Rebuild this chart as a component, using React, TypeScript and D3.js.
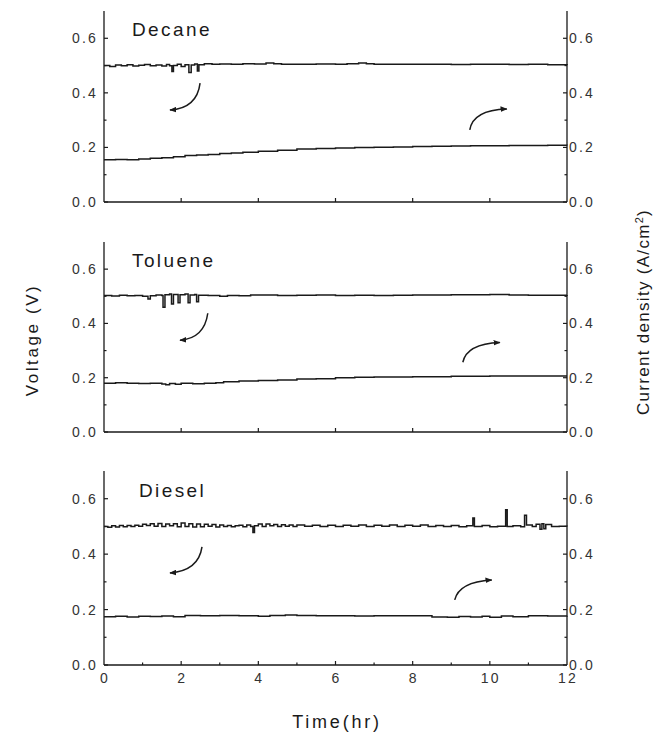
import * as d3 from 'd3';

type Pt = [number, number];

const timeTicks = [0, 2, 4, 6, 8, 10, 12];
const timeMinorTicks = [1, 3, 5, 7, 9, 11];
const valueTicks = [0, 0.2, 0.4, 0.6];
const valueMinorTicks = [0.1, 0.3, 0.5];
const panelNames = ['Decane', 'Toluene', 'Diesel'];

const decaneVoltage: Pt[] = [
  [0, 0.5], [0.15, 0.497], [0.3, 0.502], [0.45, 0.499], [0.6, 0.503], [0.75, 0.498], [0.9, 0.501],
  [1.05, 0.504], [1.2, 0.499], [1.35, 0.502], [1.5, 0.498], [1.62, 0.504], [1.7, 0.499], [1.76, 0.478],
  [1.8, 0.5], [1.9, 0.505], [2.0, 0.497], [2.1, 0.503], [2.2, 0.475], [2.26, 0.502], [2.35, 0.506],
  [2.42, 0.48], [2.46, 0.503], [2.6, 0.507], [2.8, 0.505], [3.0, 0.506], [3.3, 0.505], [3.6, 0.507],
  [3.9, 0.506], [4.2, 0.509], [4.4, 0.507], [4.6, 0.505], [5.0, 0.505], [5.5, 0.506], [6.0, 0.505],
  [6.3, 0.507], [6.6, 0.509], [6.8, 0.507], [7.0, 0.505], [7.5, 0.505], [8.0, 0.505], [8.5, 0.505],
  [9.0, 0.504], [9.5, 0.505], [10.0, 0.505], [10.5, 0.504], [11.0, 0.505], [11.5, 0.503], [12.0, 0.501],
];
const decaneCurrent: Pt[] = [
  [0, 0.155], [0.3, 0.156], [0.6, 0.155], [0.9, 0.158], [1.2, 0.16], [1.5, 0.162], [1.8, 0.166],
  [2.1, 0.17], [2.4, 0.172], [2.7, 0.174], [3.0, 0.178], [3.3, 0.18], [3.6, 0.182], [4.0, 0.186],
  [4.5, 0.19], [5.0, 0.194], [5.5, 0.196], [6.0, 0.198], [6.5, 0.2], [7.0, 0.201], [7.5, 0.202],
  [8.0, 0.203], [8.5, 0.204], [9.0, 0.205], [9.5, 0.206], [10.0, 0.206], [10.5, 0.207], [11.0, 0.207],
  [11.5, 0.208], [12.0, 0.207],
];

const tolueneVoltage: Pt[] = [
  [0, 0.503], [0.2, 0.501], [0.4, 0.504], [0.6, 0.502], [0.8, 0.503], [1.0, 0.5], [1.14, 0.49],
  [1.2, 0.502], [1.35, 0.505], [1.5, 0.503], [1.53, 0.46], [1.58, 0.506], [1.7, 0.508], [1.75, 0.472],
  [1.8, 0.507], [1.92, 0.476], [1.97, 0.506], [2.1, 0.508], [2.18, 0.476], [2.23, 0.505], [2.35, 0.507],
  [2.4, 0.48], [2.45, 0.504], [2.7, 0.503], [3.0, 0.5], [3.2, 0.503], [3.5, 0.502], [3.8, 0.505],
  [4.0, 0.505], [4.5, 0.503], [5.0, 0.504], [5.5, 0.505], [6.0, 0.503], [6.5, 0.504], [7.0, 0.503],
  [7.5, 0.504], [8.0, 0.505], [8.5, 0.505], [9.0, 0.506], [9.5, 0.506], [10.0, 0.507], [10.5, 0.505],
  [11.0, 0.504], [11.5, 0.504], [12.0, 0.505],
];
const tolueneCurrent: Pt[] = [
  [0, 0.18], [0.3, 0.181], [0.6, 0.18], [0.9, 0.179], [1.2, 0.18], [1.5, 0.177], [1.6, 0.174],
  [1.7, 0.179], [1.85, 0.176], [2.0, 0.18], [2.3, 0.178], [2.6, 0.18], [2.9, 0.181], [3.1, 0.185],
  [3.5, 0.188], [4.0, 0.19], [4.5, 0.192], [5.0, 0.195], [5.5, 0.196], [6.0, 0.2], [6.5, 0.202],
  [7.0, 0.203], [7.5, 0.203], [8.0, 0.204], [8.5, 0.204], [9.0, 0.205], [9.5, 0.205], [10.0, 0.206],
  [10.5, 0.206], [11.0, 0.206], [11.5, 0.206], [12.0, 0.206],
];

const dieselVoltage: Pt[] = [
  [0, 0.5], [0.1, 0.497], [0.2, 0.502], [0.3, 0.498], [0.4, 0.503], [0.5, 0.499], [0.6, 0.503],
  [0.7, 0.5], [0.8, 0.504], [0.9, 0.501], [1.0, 0.508], [1.1, 0.503], [1.2, 0.51], [1.3, 0.501],
  [1.4, 0.511], [1.5, 0.5], [1.6, 0.509], [1.7, 0.502], [1.8, 0.51], [1.9, 0.499], [2.0, 0.512],
  [2.1, 0.5], [2.2, 0.51], [2.3, 0.498], [2.4, 0.509], [2.5, 0.499], [2.6, 0.508], [2.7, 0.501],
  [2.8, 0.507], [2.9, 0.498], [3.0, 0.505], [3.1, 0.5], [3.2, 0.503], [3.3, 0.499], [3.4, 0.502],
  [3.5, 0.504], [3.6, 0.499], [3.7, 0.505], [3.8, 0.5], [3.86, 0.478], [3.9, 0.502], [4.0, 0.509],
  [4.1, 0.5], [4.2, 0.509], [4.3, 0.502], [4.4, 0.507], [4.5, 0.5], [4.6, 0.506], [4.7, 0.501],
  [4.8, 0.505], [4.9, 0.5], [5.0, 0.505], [5.2, 0.501], [5.4, 0.504], [5.6, 0.5], [5.8, 0.504],
  [6.0, 0.5], [6.2, 0.504], [6.4, 0.501], [6.6, 0.505], [6.8, 0.5], [7.0, 0.504], [7.2, 0.501],
  [7.4, 0.505], [7.6, 0.5], [7.8, 0.504], [8.0, 0.501], [8.2, 0.505], [8.4, 0.5], [8.6, 0.503],
  [8.8, 0.5], [9.0, 0.503], [9.2, 0.499], [9.4, 0.502], [9.56, 0.53], [9.6, 0.5], [9.8, 0.503],
  [10.0, 0.499], [10.2, 0.501], [10.41, 0.56], [10.45, 0.5], [10.6, 0.502], [10.8, 0.499], [10.9, 0.54],
  [10.95, 0.505], [11.1, 0.5], [11.2, 0.508], [11.3, 0.49], [11.35, 0.51], [11.4, 0.492], [11.45, 0.507],
  [11.6, 0.5], [11.8, 0.501], [12.0, 0.5],
];
const dieselCurrent: Pt[] = [
  [0, 0.174], [0.3, 0.176], [0.6, 0.173], [0.9, 0.176], [1.2, 0.175], [1.5, 0.177], [1.8, 0.174],
  [2.1, 0.179], [2.5, 0.178], [3.0, 0.179], [3.5, 0.178], [4.0, 0.176], [4.3, 0.179], [4.7, 0.18],
  [5.0, 0.179], [5.5, 0.178], [6.0, 0.178], [6.5, 0.177], [7.0, 0.178], [7.5, 0.178], [8.0, 0.178],
  [8.4, 0.178], [8.5, 0.173], [8.9, 0.172], [9.2, 0.175], [9.5, 0.173], [9.8, 0.176], [10.0, 0.172],
  [10.3, 0.177], [10.6, 0.174], [11.0, 0.178], [11.5, 0.177], [12.0, 0.178],
];

// curved arrows: [start, control, end] in data units
const decaneArrows: Pt[][] = [
  [[2.49, 0.436], [2.41, 0.344], [1.71, 0.337]],
  [[9.48, 0.264], [9.56, 0.337], [10.44, 0.341]],
];
const tolueneArrows: Pt[][] = [
  [[2.69, 0.4375], [2.6, 0.345], [1.97, 0.338]],
  [[9.3, 0.257], [9.4, 0.325], [10.26, 0.33]],
];
const dieselArrows: Pt[][] = [
  [[2.54, 0.426], [2.45, 0.34], [1.71, 0.332]],
  [[9.09, 0.235], [9.2, 0.3], [10.05, 0.307]],
];

const panels = [
  { name: panelNames[0], voltage: decaneVoltage, current: decaneCurrent, arrows: decaneArrows, top: 11, bottom: 202, labelX: 132, labelY: 36 },
  { name: panelNames[1], voltage: tolueneVoltage, current: tolueneCurrent, arrows: tolueneArrows, top: 242, bottom: 432, labelX: 132, labelY: 267 },
  { name: panelNames[2], voltage: dieselVoltage, current: dieselCurrent, arrows: dieselArrows, top: 471, bottom: 665, labelX: 139, labelY: 497 },
];

const FONT = '"Liberation Sans", Arial, sans-serif';
const INK = '#1a1a1a';

export default function App() {
  const width = 660;
  const height = 738;
  const left = 104;
  const right = 567;

  const x = d3.scaleLinear().domain([0, 12]).range([left, right]);

  return (
    <svg width={width} height={height} style={{ position: 'absolute', left: 0, top: 0, background: '#fff' }}>
      <defs>
        <marker id="head" viewBox="0 0 10 8" refX={9} refY={4} markerWidth={7} markerHeight={6} orient="auto" markerUnits="userSpaceOnUse">
          <path d="M0,0 L10,4 L0,8 z" fill={INK} />
        </marker>
      </defs>

      {panels.map((p, pi) => {
        const y = d3.scaleLinear().domain([0, 0.7]).range([p.bottom, p.top]);
        // stepped trace, like the logger output
        const line = d3.line<Pt>().x((d) => x(d[0])).y((d) => y(d[1])).curve(d3.curveStepAfter);
        const isLast = pi === panels.length - 1;
        return (
          <g key={p.name}>
            {/* data */}
            <path d={line(p.voltage) || ''} fill="none" stroke={INK} strokeWidth={1.5} />
            <path d={line(p.current) || ''} fill="none" stroke={INK} strokeWidth={1.5} />

            {/* arrows */}
            {p.arrows.map((a, i) => {
              const path = d3.path();
              path.moveTo(x(a[0][0]), y(a[0][1]));
              path.quadraticCurveTo(x(a[1][0]), y(a[1][1]), x(a[2][0]), y(a[2][1]));
              return (
                <path key={i} d={path.toString()} fill="none" stroke={INK} strokeWidth={1.5} markerEnd="url(#head)" />
              );
            })}

            {/* frame: left, right, bottom */}
            <line x1={left} x2={left} y1={p.top} y2={p.bottom} stroke={INK} strokeWidth={1.3} />
            <line x1={right} x2={right} y1={p.top} y2={p.bottom} stroke={INK} strokeWidth={1.3} />
            <line x1={left} x2={right} y1={p.bottom} y2={p.bottom} stroke={INK} strokeWidth={1.3} />

            {/* y ticks */}
            {valueTicks.map((t) => (
              <g key={`yt-${t}`}>
                <line x1={left} x2={left + 4} y1={y(t)} y2={y(t)} stroke={INK} strokeWidth={1.2} />
                <line x1={right - 4} x2={right} y1={y(t)} y2={y(t)} stroke={INK} strokeWidth={1.2} />
                <text x={98} y={y(t)} dy="0.36em" textAnchor="end" fontSize={14} letterSpacing={2.2}
                  fontFamily={FONT} fill="#333">{d3.format('.1f')(t)}</text>
                <text x={569} y={y(t)} dy="0.36em" fontSize={14} letterSpacing={2.2}
                  fontFamily={FONT} fill="#333">{d3.format('.1f')(t)}</text>
              </g>
            ))}
            {valueMinorTicks.map((t) => (
              <g key={`ym-${t}`}>
                <line x1={left} x2={left + 2.5} y1={y(t)} y2={y(t)} stroke={INK} strokeWidth={1.2} />
                <line x1={right - 2.5} x2={right} y1={y(t)} y2={y(t)} stroke={INK} strokeWidth={1.2} />
              </g>
            ))}

            {/* x ticks */}
            {timeTicks.slice(1, -1).map((t) => (
              <line key={`xt-${t}`} x1={x(t)} x2={x(t)} y1={p.bottom} y2={p.bottom - 4} stroke={INK} strokeWidth={1.2} />
            ))}
            {isLast && timeMinorTicks.map((t) => (
              <line key={`xm-${t}`} x1={x(t)} x2={x(t)} y1={p.bottom} y2={p.bottom - 2.5} stroke={INK} strokeWidth={1.2} />
            ))}
            {isLast && timeTicks.map((t) => (
              <text key={`xl-${t}`} x={x(t) + 1} y={p.bottom + 18} textAnchor="middle" fontSize={14} letterSpacing={2.2}
                fontFamily={FONT} fill="#333">{t}</text>
            ))}

            {/* panel label */}
            <text x={p.labelX} y={p.labelY} fontSize={19} letterSpacing={2.4} fontFamily={FONT} fill={INK}>{p.name}</text>
          </g>
        );
      })}

      {/* axis titles */}
      <text x={337} y={728} textAnchor="middle" fontSize={18} letterSpacing={2.8} fontFamily={FONT} fill={INK}>Time(hr)</text>
      <text transform="translate(38,340) rotate(-90)" textAnchor="middle" fontSize={17} letterSpacing={2.6}
        fontFamily={FONT} fill={INK}>Voltage (V)</text>
      <text transform="translate(649,312) rotate(-90)" textAnchor="middle" fontSize={17} letterSpacing={1.3}
        fontFamily={FONT} fill={INK}>
        Current density (A/cm<tspan baselineShift="super" fontSize={11}>2</tspan>)
      </text>
    </svg>
  );
}
